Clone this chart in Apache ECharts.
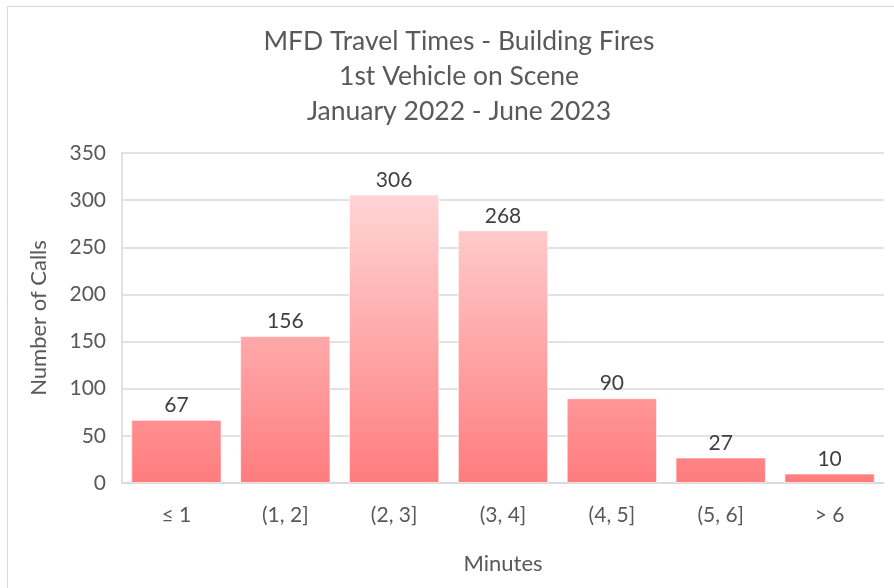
<!DOCTYPE html>
<html>
<head>
<meta charset="utf-8">
<script src="https://cdn.jsdelivr.net/npm/echarts@6/dist/echarts.min.js"></script>
<style>
  html, body { margin: 0; padding: 0; background: #fff; }
  #chart { width: 894px; height: 588px; }
</style>
</head>
<body>
<div id="chart"></div>
<script>
  const categories = ['≤ 1', '(1, 2]', '(2, 3]', '(3, 4]', '(4, 5]', '(5, 6]', '> 6'];
  const calls = [67, 156, 306, 268, 90, 27, 10];
  const titleLines = ['MFD Travel Times - Building Fires', '1st Vehicle on Scene', 'January 2022 - June 2023'];

  const font = 'Lato, "Open Sans", sans-serif';
  const textColor = '#595959';

  const chart = echarts.init(document.getElementById('chart'));

  // gradient follows the plot height, as in the original
  const barFill = new echarts.graphic.LinearGradient(0, 153, 0, 483, [
    { offset: 0, color: '#ffe2e2' },
    { offset: 1, color: '#ff7c7e' },
  ], true);

  chart.setOption({
    animation: false,
    textStyle: { fontFamily: font },
    graphic: [
      {
        type: 'rect',
        shape: { x: 7.5, y: 6.5, width: 900, height: 600 },
        style: { fill: 'none', stroke: '#d9d9d9', lineWidth: 1 },
      },
    ],
    title: {
      text: titleLines.join('\n'),
      left: 454,
      textAlign: 'center',
      top: 19,
      textStyle: {
        fontFamily: font,
        fontSize: 26.5,
        fontWeight: 'normal',
        color: textColor,
        lineHeight: 35,
      },
    },
    grid: { left: 122, right: 10, top: 153, bottom: 105 },
    xAxis: {
      type: 'category',
      data: categories,
      name: 'Minutes',
      nameLocation: 'middle',
      nameGap: 70,
      nameTextStyle: { fontSize: 22, color: textColor },
      axisLine: { lineStyle: { color: '#d9d9d9', width: 1.5 } },
      axisTick: { show: false },
      axisLabel: { fontSize: 21, color: textColor, margin: 22 },
    },
    yAxis: {
      type: 'value',
      min: 0,
      max: 350,
      interval: 50,
      name: 'Number of Calls',
      nameLocation: 'middle',
      nameGap: 72,
      nameTextStyle: { fontSize: 22, color: textColor },
      axisLine: { show: true, lineStyle: { color: '#d9d9d9', width: 1.5 } },
      axisTick: { show: false },
      axisLabel: { fontSize: 21, color: textColor, margin: 16 },
      splitLine: { lineStyle: { color: '#d9d9d9', width: 1.5 } },
    },
    series: [
      {
        type: 'bar',
        data: calls,
        barCategoryGap: '17%',
        itemStyle: {
          color: barFill,
          borderColor: 'rgba(255,255,255,0.6)',
          borderWidth: 1,
        },
        label: {
          show: true,
          position: 'top',
          distance: 4,
          fontSize: 21,
          color: '#404040',
        },
      },
    ],
  });
</script>
</body>
</html>
